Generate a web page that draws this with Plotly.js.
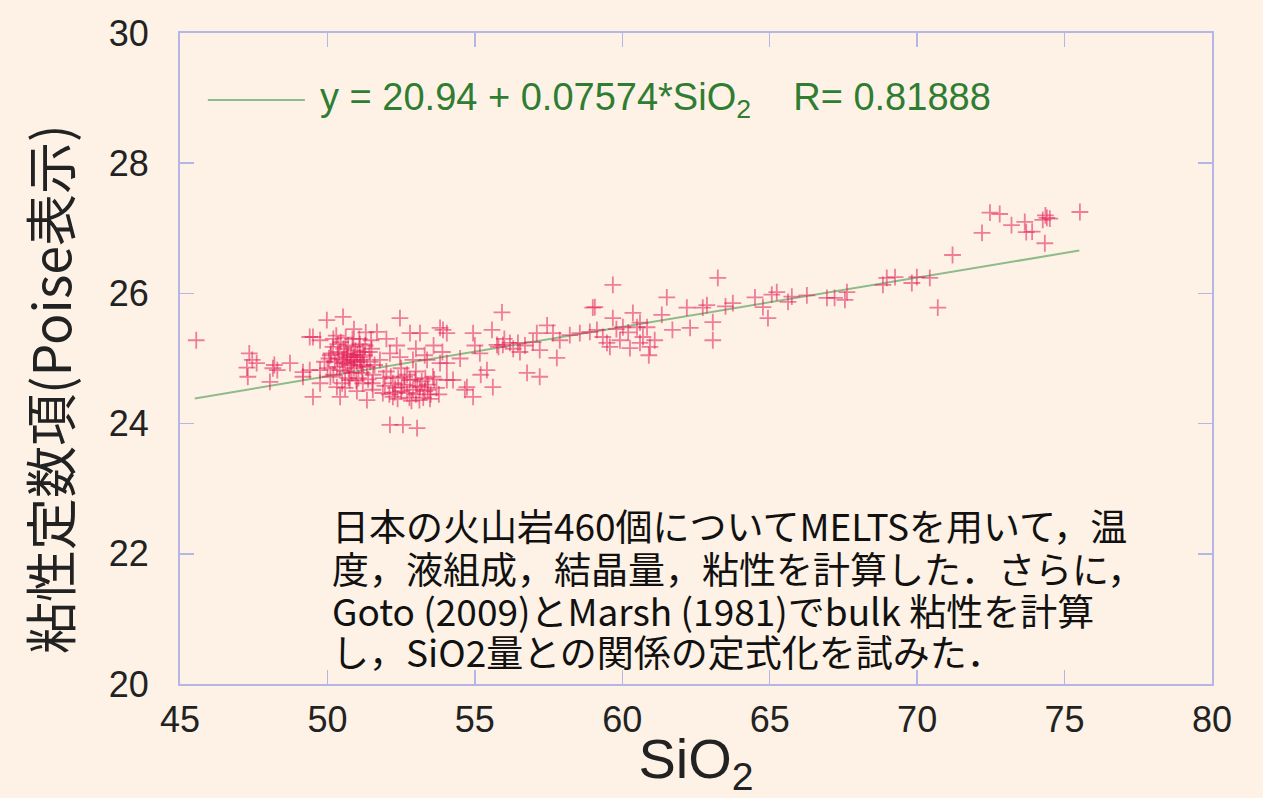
<!DOCTYPE html>
<html>
<head>
<meta charset="utf-8">
<script src="https://cdn.plot.ly/plotly-3.0.1.min.js"></script>
<style>
  html, body { margin: 0; padding: 0; background: #fdf2e5; }
  #chart { width: 1263px; height: 798px; }
</style>
</head>
<body>
<div id="chart"></div>
<script>
// ---- data ----
const sio2 = [
  45.55,47.35,47.27,47.6,47.3,47.45,48.15,48.3,48.05,48.2,48.73,49.17,49.4,49.17,49.51,49.98,49.75,49.75,49.4,49.51,49.75,49.9,
  50.53,50.19,50.66,50.87,51.1,50.53,50.32,51.34,50.76,50.32,50.43,51.34,51.2,50.0,50.1,50.2,50.4,50.45,50.55,50.6,50.7,50.75,
  50.8,50.85,50.9,50.95,51.0,51.05,51.1,51.15,51.25,51.3,51.45,51.5,51.55,51.68,51.78,50.3,50.05,50.6,51.0,50.9,50.25,50.65,
  50.5,50.8,51.2,50.35,
  50.1,50.35,50.5,50.62,50.72,50.88,50.98,51.08,51.18,51.28,51.38,51.48,51.6,50.2,50.42,50.58,50.82,51.02,51.22,51.42,50.12,
  50.68,50.92,51.12,51.52,
  52.46,52.8,53.82,54.05,53.14,52.12,52.46,52.9,53.38,53.82,54.05,53.58,53.14,52.7,52.22,51.88,51.54,52.22,52.8,52.12,52.56,53.04,
  52.0,52.3,52.5,52.6,52.9,53.0,53.2,53.3,53.4,53.5,52.4,52.7,53.0,53.7,52.0,52.35,53.6,53.9,52.1,52.85,53.25,52.5,53.0,53.3,51.9,
  51.95,52.15,52.38,52.62,52.78,52.98,53.12,53.32,53.48,53.62,53.78,52.52,53.05,53.4,52.28,
  53.92,54.94,55.58,55.75,55.95,56.19,56.46,56.97,57.2,57.1,57.65,57.88,58.22,58.56,55.17,56.53,57.78,55.41,56.77,57.2,54.05,54.26,
  54.73,55.61,54.94,55.92,57.45,54.5,55.0,56.0,56.3,55.8,56.7,54.66,55.2,
  59.0,59.14,59.48,59.68,59.07,58.9,59.34,59.58,59.68,59.92,60.02,60.26,60.36,60.5,60.6,60.7,60.84,60.94,61.1,61.34,61.51,61.7,
  62.19,62.3,60.2,60.6,59.8,60.9,
  62.73,62.87,63.07,63.07,63.24,63.75,64.5,64.77,64.94,65.24,65.07,65.62,65.75,66.26,63.5,
  66.94,67.2,67.62,67.55,68.84,68.97,69.25,69.82,69.99,70.43,70.7,
  71.2,72.2,72.47,72.8,73.2,73.65,73.7,73.9,74.26,74.4,74.5,74.35,74.33,75.52
];
const viscosity = [
  25.28,25.08,24.86,24.93,24.72,24.98,24.85,24.82,24.64,24.9,24.93,24.79,24.82,24.72,25.33,25.59,24.82,25.28,25.33,24.41,24.62,24.95,
  25.64,25.18,25.02,24.98,25.02,24.93,24.87,24.87,24.67,24.56,24.41,24.36,24.62,24.85,25.05,24.75,25.1,25.25,25.15,24.8,25.2,24.9,
  25.05,25.3,24.85,25.12,24.95,24.7,25.22,24.88,25.05,25.4,24.95,25.15,24.75,25.41,24.98,25.35,25.0,24.55,24.5,25.45,24.95,25.08,
  24.98,24.95,25.1,25.0,
  24.72,25.22,24.62,25.32,24.7,25.18,24.66,25.3,24.78,25.2,24.68,25.28,24.9,25.3,24.82,25.06,24.78,25.06,24.9,25.1,25.08,
  24.92,25.02,24.98,24.62,
  25.62,25.39,25.47,25.39,25.39,25.08,25.02,24.98,24.98,24.93,24.67,24.72,24.56,24.47,24.41,24.47,24.52,24.62,24.67,23.98,23.98,23.93,
  24.8,24.55,24.5,24.6,24.52,24.45,24.65,24.5,24.6,24.45,24.7,24.75,24.8,24.55,25.3,25.2,25.2,25.1,24.45,24.35,24.4,24.85,25.15,25.05,24.7,
  24.58,24.72,24.38,24.72,24.4,24.68,24.36,24.7,24.38,24.68,24.45,24.56,24.58,24.52,24.48,
  25.44,25.39,25.44,25.21,25.21,25.24,25.24,25.25,25.13,25.39,25.39,25.28,25.36,25.39,25.08,25.1,25.01,24.82,24.78,24.72,24.93,24.67,
  24.56,24.56,24.41,25.71,25.51,25.0,25.2,25.3,25.15,25.18,25.2,24.52,24.75,
  25.78,25.44,25.24,26.13,25.79,25.41,25.33,25.18,25.62,25.28,25.48,25.16,25.7,25.48,25.24,25.33,25.48,25.18,25.28,25.67,25.94,25.44,
  25.78,25.47,25.4,25.55,25.45,25.05,
  25.78,25.82,25.56,25.28,26.24,25.85,25.94,25.79,25.62,26.02,25.98,25.87,25.95,25.97,25.8,
  25.93,25.93,26.02,25.9,26.13,26.24,26.25,26.16,26.25,26.24,25.78,
  26.59,26.93,27.24,27.22,27.05,27.1,26.94,26.95,27.13,27.16,27.15,27.2,26.77,27.25
];
const fitIntercept = 20.94;
const fitSlope = 0.07574;
const fitRange = [45.5, 75.5];
const fitLabel = "y = 20.94 + 0.07574*SiO<sub>2</sub>    R= 0.81888";
const xTicks = [45, 50, 55, 60, 65, 70, 75, 80];
const yTicks = [20, 22, 24, 26, 28, 30];
const xTitle = "SiO<sub>2</sub>";
const yTitle = "粘性定数項(Poise表示)";
const noteLines = [
  "日本の火山岩460個についてMELTSを用いて，温",
  "度，液組成，結晶量，粘性を計算した．さらに，",
  "Goto (2009)とMarsh (1981)でbulk 粘性を計算",
  "し，SiO2量との関係の定式化を試みた．"
];

// ---- build ----
const fitX = fitRange;
const fitY = fitRange.map(v => fitIntercept + fitSlope * v);

const axisColor = "#b4b6e6";
const latin = "Liberation Sans, Arial, sans-serif";
const cjk = "Noto Sans CJK JP, sans-serif";

const traces = [
  {
    x: fitX, y: fitY, mode: "lines", type: "scatter",
    line: { color: "#8fba8a", width: 2 }, hoverinfo: "skip", showlegend: false
  },
  {
    x: sio2, y: viscosity, mode: "markers", type: "scatter",
    marker: {
      symbol: "cross-thin-open", size: 12,
      color: "rgba(228,30,88,0.55)",
      line: { color: "rgba(228,30,88,0.55)", width: 1.8 }
    },
    showlegend: false
  }
];

const noteY = [0.244, 0.178, 0.114, 0.051];
const annotations = noteLines.map((t, i) => ({
  xref: "paper", yref: "paper", x: 0.145, y: noteY[i],
  xanchor: "left", yanchor: "middle", showarrow: false,
  text: t, font: { family: cjk, size: 37, color: "#111" }
}));
annotations.push({
  xref: "paper", yref: "paper", x: 0.134, y: 0.897,
  xanchor: "left", yanchor: "middle", showarrow: false,
  text: fitLabel, font: { family: latin, size: 38, color: "#2f7d32" }
});
annotations.push({
  xref: "paper", yref: "paper", x: -0.128, y: 0.453,
  xanchor: "center", yanchor: "middle", showarrow: false, textangle: -90,
  text: yTitle, font: { family: cjk, size: 52, color: "#222" }
});

const layout = {
  width: 1263, height: 798,
  margin: { l: 180, r: 51, t: 33, b: 114 },
  paper_bgcolor: "#fdf2e5", plot_bgcolor: "#fdf2e5",
  showlegend: false,
  xaxis: {
    range: [45, 80], tickvals: xTicks, ticktext: xTicks.map(String),
    showgrid: false, zeroline: false,
    showline: true, linecolor: axisColor, linewidth: 2, mirror: "ticks",
    ticks: "inside", ticklen: 14, tickwidth: 1.5, tickcolor: axisColor,
    tickfont: { family: latin, size: 36, color: "#222" },
    ticklabelstandoff: 3,
    title: { text: xTitle, font: { family: latin, size: 56, color: "#222" }, standoff: 14 }
  },
  yaxis: {
    range: [20, 30], tickvals: yTicks, ticktext: yTicks.map(String),
    showgrid: false, zeroline: false,
    showline: true, linecolor: axisColor, linewidth: 2, mirror: "ticks",
    ticks: "inside", ticklen: 14, tickwidth: 1.5, tickcolor: axisColor,
    tickfont: { family: latin, size: 36, color: "#222" },
    ticklabelstandoff: 22
  },
  shapes: [{
    type: "line", xref: "paper", yref: "paper",
    x0: 0.027, x1: 0.121, y0: 0.897, y1: 0.897,
    line: { color: "#8fba8a", width: 2 }
  }],
  annotations: annotations
};

Plotly.newPlot("chart", traces, layout, { displayModeBar: false, staticPlot: true });
</script>
</body>
</html>
